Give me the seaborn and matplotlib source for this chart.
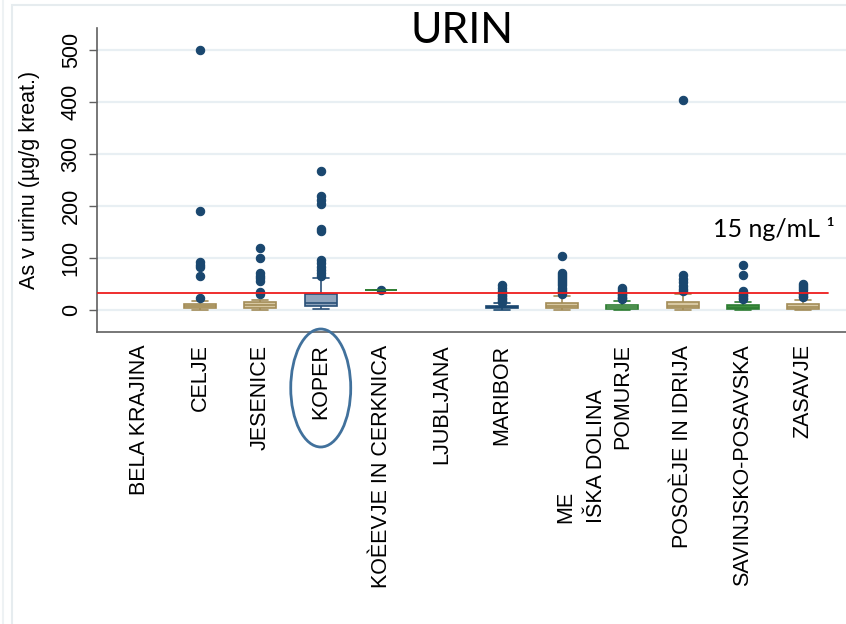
import matplotlib
matplotlib.use("Agg")
import matplotlib.pyplot as plt
import matplotlib.transforms as mtransforms
from matplotlib.patches import Ellipse, Rectangle
import pandas as pd
import seaborn as sns

# Regions on the x axis (order as drawn)
regions = ["BELA KRAJINA", "CELJE", "JESENICE", "KOPER", "KOÈEVJE IN CERKNICA",
           "LJUBLJANA", "MARIBOR", "MEŽIŠKA DOLINA", "POMURJE",
           "POSOÈJE IN IDRIJA", "SAVINJSKO-POSAVSKA", "ZASAVJE"]
tick_labels = ["BELA KRAJINA", "CELJE", "JESENICE", "KOPER", "KOÈEVJE IN CERKNICA",
               "LJUBLJANA", "MARIBOR", "", "POMURJE",
               "POSOÈJE IN IDRIJA", "SAVINJSKO-POSAVSKA", "ZASAVJE"]
split_label = "ME\nIŠKA DOLINA"
split_index = 7

# Urinary arsenic, µg/g creatinine, per region
celje = [1, 2, 2, 3, 3, 3, 4, 4, 4, 4, 4, 5, 6, 6, 7, 7, 7, 8, 8, 8,
         8, 9, 9, 9, 10, 10, 10, 11, 11, 11, 13, 15, 18,
         24, 66, 83, 86, 93, 191, 500]
jesenice = [1, 2, 2, 3, 3, 4, 4, 4, 4, 5, 5, 5, 6, 6, 7, 7, 8, 8, 8, 9,
            9, 10, 10, 11, 11, 12, 12, 13, 13, 14, 15, 17, 19,
            31, 35, 56, 61, 66, 72, 100, 119]
koper = [2, 3, 4, 4, 5, 5, 6, 6, 6, 7, 7, 7, 8, 8, 8,
         8, 9, 9, 10, 10, 10, 11, 11, 12, 12, 12, 13, 13, 13, 13,
         14, 14, 15, 16, 17, 18, 19, 20, 21, 22, 24, 25, 27, 28, 29,
         35, 46, 61,
         66, 72, 78, 84, 90, 97, 152, 156, 204, 212, 219, 268]
kocevje = [38, 38, 38, 38, 38.5]
maribor = [1, 1, 2, 2, 2, 3, 3, 3, 3, 3, 4, 4, 4,
           4, 4, 4, 5, 5, 5, 5, 5, 5, 6, 6, 6,
           6, 6, 6, 6, 6, 7, 7, 7, 7, 7, 7, 7,
           8, 11, 13,
           16, 18, 21, 24, 27, 30, 33, 37, 42, 49]
mezica = [1, 1, 2, 2, 2, 3, 3, 3, 3, 3, 4, 4, 4, 4, 4,
          4, 5, 5, 5, 5, 6, 6, 6, 6, 7, 7, 7, 7, 7, 7,
          8, 8, 8, 9, 9, 9, 10, 10, 10, 11, 11, 12, 12, 13, 14,
          17, 21, 27,
          32, 35, 39, 43, 48, 52, 56, 60, 64, 68, 72, 104]
pomurje = [1, 1, 1, 2, 2, 2, 2, 3, 3, 3, 3,
           3, 4, 4, 4, 5, 5, 5, 5, 6, 6, 6,
           6, 7, 7, 7, 8, 8, 8, 9, 9, 9, 9,
           10, 13, 18,
           21, 23, 26, 29, 32, 35, 38, 42]
posocje = [1, 2, 2, 3, 3, 3, 4, 4, 4, 4, 5, 5, 6, 6, 7, 7, 7, 8, 8, 8,
           9, 10, 10, 11, 12, 12, 13, 14, 15, 16, 18, 24, 31,
           36, 41, 47, 54, 60, 67, 404]
savinjsko = [0.5, 1, 1, 1, 1, 1, 2, 2, 2, 2, 2,
             2, 3, 3, 3, 4, 4, 4, 5, 5, 5, 5,
             5, 6, 6, 6, 7, 7, 7, 8, 8, 8, 9,
             10, 12, 15,
             21, 24, 27, 30, 33, 37, 67, 86]
zasavje = [1, 1, 1, 2, 2, 2, 2, 3, 3, 3, 3,
           3, 4, 4, 4, 5, 5, 5, 6, 6, 6, 6,
           7, 7, 8, 8, 9, 9, 10, 10, 11, 11, 11,
           12, 16, 20,
           25, 28, 31, 34, 38, 42, 46, 50]

limit_value = 33.3
limit_text = "15 ng/mL \u00b9"

groups = {
    "CELJE": celje, "JESENICE": jesenice, "KOPER": koper,
    "KOÈEVJE IN CERKNICA": kocevje, "MARIBOR": maribor,
    "MEŽIŠKA DOLINA": mezica, "POMURJE": pomurje,
    "POSOÈJE IN IDRIJA": posocje, "SAVINJSKO-POSAVSKA": savinjsko,
    "ZASAVJE": zasavje,
}
rows = [(r, v) for r, vals in groups.items() for v in vals]
df = pd.DataFrame(rows, columns=["region", "value"])

# box styling: (fill, line)
tan = ("#d8c8a2", "#a38c57")
green_light = ("#e4efdc", "#2e7d32")
green_dark = ("#3f8f3f", "#2e7d32")
styles = {
    "CELJE": tan, "JESENICE": tan, "KOPER": ("#8fa4bc", "#2a5078"),
    "KOÈEVJE IN CERKNICA": green_dark, "MARIBOR": ("#3d6a93", "#1a476f"),
    "MEŽIŠKA DOLINA": tan, "POMURJE": green_light,
    "POSOÈJE IN IDRIJA": tan, "SAVINJSKO-POSAVSKA": green_dark,
    "ZASAVJE": tan,
}
navy = "#1a476f"

sns.set_theme(style="white")
plt.rcParams["font.family"] = ["Liberation Sans", "DejaVu Sans"]
plt.rcParams["text.color"] = "black"
plt.rcParams["axes.labelcolor"] = "black"
plt.rcParams["xtick.color"] = "black"
plt.rcParams["ytick.color"] = "black"

fig = plt.figure(figsize=(8.46, 6.24), dpi=100)
ax = fig.add_axes([97 / 846, 1 - 332 / 624, 1 - 97 / 846, (332 - 28) / 624])

for region, (fill, line) in styles.items():
    sub = df[df["region"] == region]
    sns.boxplot(data=sub, x="region", y="value", order=regions, ax=ax,
                color=fill, linecolor=line, saturation=1, width=0.53,
                linewidth=1.2,
                flierprops=dict(marker="o", markerfacecolor=navy,
                                markeredgecolor=navy, markersize=6,
                                markeredgewidth=0.8))

ax.set_ylim(-42, 543)
ax.set_xlim(-0.71, len(regions) - 0.29)
ax.set_yticks([0, 100, 200, 300, 400, 500])
ax.yaxis.grid(True, color="#e8eff3", linewidth=1.6)
ax.set_axisbelow(True)
ax.axhline(limit_value, xmin=0, xmax=(828 - 97) / 749, color="#ee1c1c",
           linewidth=1.3, zorder=5)

for side in ["top", "right"]:
    ax.spines[side].set_visible(False)
for side in ["left", "bottom"]:
    ax.spines[side].set_color("#606060")
    ax.spines[side].set_linewidth(1.2)

ax.set_xticks(range(len(regions)))
ax.set_xticklabels(tick_labels, rotation=90, va="top", ha="center",
                   fontsize=15.5, color="black")
ax.tick_params(axis="x", length=0, pad=9)
ax.tick_params(axis="y", length=6, width=1, color="#606060", pad=5,
               labelsize=15.5, labelcolor="black", left=True)
for lbl in ax.get_yticklabels():
    lbl.set_rotation(90)
    lbl.set_va("center")
    lbl.set_ha("right")

ax.set_xlabel("")
ax.set_ylabel("As v urinu (µg/g kreat.)", fontsize=15.5, color="black")
ax.yaxis.set_label_coords(-0.076, 0.5)

# two-line region label
trans = mtransforms.offset_copy(ax.get_xaxis_transform(), fig=fig,
                                x=19, y=-191, units="dots")
ax.text(split_index, 0, split_label, transform=trans, rotation=90,
        rotation_mode="anchor", ha="left", va="center", fontsize=15.5,
        linespacing=1.6, multialignment="left", clip_on=False, color="black")

# highlight around KOPER
koper_x_px = ax.transData.transform((regions.index("KOPER"), 0))[0]
ell = Ellipse((koper_x_px, 624 - 388), width=60, height=118, facecolor="none",
              edgecolor="#41719c", linewidth=2.0, clip_on=False,
              transform=mtransforms.IdentityTransform())
fig.add_artist(ell)

# title and annotation
fig.text(462 / 846, 1 - 31 / 624, "URIN", ha="center", va="center",
         fontsize=31, family=["Lato", "DejaVu Sans"], color="black")
fig.text(713 / 846, 1 - 237 / 624, limit_text, ha="left", va="baseline",
         fontsize=18, family=["Lato", "DejaVu Sans"], color="black")

# faint page frame
fig.add_artist(Rectangle((12 / 846, -0.01), 1.0, 1 - 5 / 624 + 0.01,
                         transform=fig.transFigure, fill=False,
                         edgecolor="#e6ecef", linewidth=1.5))
fig.add_artist(plt.Line2D([3 / 846, 3 / 846], [0, 1], transform=fig.transFigure,
                          color="#eef2f4", linewidth=1.5))

fig.savefig("out.png", dpi=100)
